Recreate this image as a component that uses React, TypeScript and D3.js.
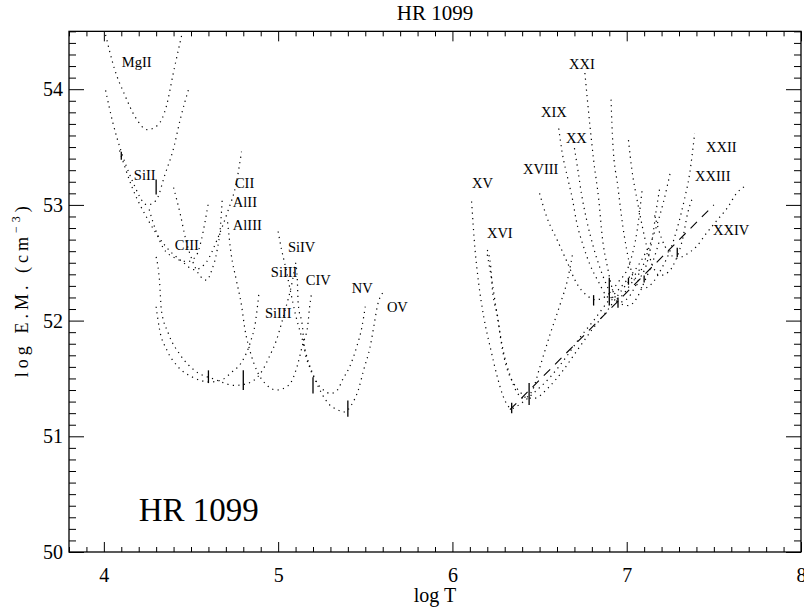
import React, { useEffect, useRef } from "react";
import * as d3 from "d3";

// ---- emission-measure loci: [log T, log EM] ----
const mgII = [[4.01, 54.47], [4.06, 54.18], [4.12, 53.95], [4.18, 53.76], [4.25, 53.65], [4.31, 53.69], [4.36, 53.86], [4.40, 54.15], [4.45, 54.49]];
const siII = [[4.01, 53.99], [4.05, 53.72], [4.10, 53.46], [4.16, 53.22], [4.25, 53.0], [4.30, 53.04], [4.35, 53.26], [4.40, 53.49], [4.44, 53.75], [4.49, 54.02]];
const cII = [[4.09, 53.47], [4.16, 53.16], [4.25, 52.88], [4.35, 52.65], [4.45, 52.51], [4.52, 52.44], [4.59, 52.51], [4.65, 52.70], [4.71, 52.94], [4.76, 53.19], [4.79, 53.46]];
const cIII = [[4.26, 52.96], [4.30, 52.77], [4.34, 52.63], [4.41, 52.54], [4.48, 52.51], [4.53, 52.56], [4.56, 52.70], [4.58, 52.85], [4.60, 53.02]];
const alII = [[4.40, 53.15], [4.44, 52.91], [4.47, 52.70], [4.51, 52.51], [4.55, 52.39], [4.59, 52.35], [4.62, 52.44], [4.65, 52.61], [4.67, 52.83], [4.68, 53.07]];
const alIII = [[4.71, 52.85], [4.73, 52.58], [4.76, 52.35], [4.79, 52.13], [4.81, 51.92], [4.84, 51.73], [4.88, 51.56], [4.93, 51.45], [4.99, 51.40], [5.06, 51.44], [5.11, 51.61], [5.14, 51.79], [5.17, 51.96], [5.18, 52.11], [5.19, 52.22]];
const siIIIa = [[4.30, 52.55], [4.32, 52.33], [4.33, 52.09], [4.37, 51.89], [4.44, 51.70], [4.52, 51.57], [4.64, 51.49], [4.75, 51.44], [4.83, 51.46], [4.88, 51.51], [4.91, 51.57], [4.95, 51.69], [4.99, 51.83], [5.02, 51.98], [5.04, 52.09], [5.06, 52.20], [5.08, 52.33], [5.10, 52.50]];
const siIIIb = [[4.30, 52.12], [4.32, 51.92], [4.36, 51.75], [4.42, 51.61], [4.51, 51.51], [4.61, 51.47], [4.68, 51.49], [4.73, 51.55], [4.79, 51.64], [4.84, 51.81], [4.87, 51.99], [4.89, 52.24]];
const nV = [[5.10, 52.50], [5.11, 52.35], [5.115, 52.15], [5.14, 51.94], [5.15, 51.77], [5.18, 51.60], [5.22, 51.47], [5.26, 51.40], [5.30, 51.37], [5.34, 51.40], [5.37, 51.49], [5.41, 51.60], [5.45, 51.77], [5.48, 51.94], [5.50, 52.12]];
const oV = [[5.0, 52.77], [5.02, 52.61], [5.04, 52.48], [5.07, 52.26], [5.10, 52.05], [5.14, 51.83], [5.17, 51.66], [5.21, 51.50], [5.25, 51.37], [5.29, 51.28], [5.34, 51.23], [5.38, 51.21], [5.42, 51.27], [5.46, 51.40], [5.49, 51.57], [5.53, 51.79], [5.55, 51.96], [5.57, 52.13], [5.60, 52.24]];

const feXV = [[6.11, 53.03], [6.13, 52.61], [6.15, 52.33], [6.18, 52.03], [6.22, 51.75], [6.26, 51.50], [6.29, 51.35], [6.34, 51.24], [6.39, 51.28], [6.47, 51.38], [6.56, 51.51], [6.65, 51.68], [6.73, 51.85], [6.82, 52.02], [6.90, 52.18], [6.99, 52.33], [7.08, 52.51], [7.13, 52.65]];
const feXVI = [[6.20, 52.61], [6.22, 52.46], [6.23, 52.26], [6.26, 52.03], [6.28, 51.81], [6.31, 51.60], [6.35, 51.46], [6.39, 51.38], [6.43, 51.33], [6.47, 51.33], [6.55, 51.42], [6.63, 51.56], [6.71, 51.73], [6.80, 51.92], [6.89, 52.09], [6.97, 52.26], [7.08, 52.45]];
const feXVII = [[6.20, 52.57], [6.23, 52.31], [6.26, 52.01], [6.29, 51.75], [6.33, 51.53], [6.37, 51.38], [6.41, 51.33], [6.46, 51.40], [6.50, 51.59], [6.56, 51.88], [6.62, 52.15], [6.66, 52.35], [6.69, 52.58]];
const feXVIII = [[6.50, 53.10], [6.54, 52.90], [6.60, 52.70], [6.66, 52.50], [6.71, 52.33], [6.77, 52.22], [6.82, 52.18], [6.88, 52.21], [6.95, 52.33], [7.02, 52.51], [7.06, 52.78], [7.09, 53.15]];
const feXIX = [[6.61, 53.66], [6.63, 53.45], [6.66, 53.24], [6.69, 53.04], [6.71, 52.87], [6.75, 52.65], [6.79, 52.48], [6.84, 52.33], [6.88, 52.22], [6.92, 52.18], [6.96, 52.20], [7.03, 52.33], [7.09, 52.46], [7.13, 52.64], [7.17, 52.81], [7.21, 53.02], [7.25, 53.28]];
const feXX = [[6.70, 53.49], [6.72, 53.30], [6.74, 53.10], [6.77, 52.87], [6.81, 52.63], [6.85, 52.44], [6.89, 52.29], [6.92, 52.20], [6.96, 52.16], [7.01, 52.20], [7.06, 52.33], [7.12, 52.52], [7.15, 52.74], [7.17, 52.96], [7.19, 53.15]];
const feXXI = [[6.76, 54.14], [6.79, 53.67], [6.81, 53.39], [6.84, 53.04], [6.86, 52.72], [6.89, 52.46], [6.92, 52.26], [6.96, 52.15], [7.01, 52.13], [7.06, 52.20], [7.10, 52.33], [7.15, 52.51], [7.19, 52.70]];
const feXXII = [[6.91, 53.91], [6.92, 53.54], [6.95, 53.15], [6.97, 52.90], [7.00, 52.61], [7.03, 52.41], [7.06, 52.31], [7.10, 52.28], [7.15, 52.33], [7.20, 52.45], [7.25, 52.61], [7.29, 52.80], [7.33, 53.04], [7.36, 53.26], [7.39, 53.62]];
const feXXIII = [[7.01, 53.56], [7.03, 53.30], [7.06, 53.04], [7.09, 52.81], [7.12, 52.61], [7.15, 52.47], [7.19, 52.39], [7.24, 52.42], [7.28, 52.52], [7.32, 52.70], [7.35, 52.93], [7.38, 53.07]];
const feXXIV = [[7.16, 52.91], [7.20, 52.71], [7.24, 52.59], [7.29, 52.54], [7.34, 52.57], [7.40, 52.64], [7.46, 52.76], [7.52, 52.87], [7.58, 52.98], [7.63, 53.10], [7.69, 53.17]];

// long-dashed line
const dashedLine = [[6.33, 51.23], [7.50, 53.0]];

// vertical bars: [log T, low, high]
const errBars = [
  [4.10, 53.39, 53.46], [4.30, 53.09, 53.22], [4.60, 51.46, 51.57], [4.80, 51.40, 51.57],
  [5.20, 51.37, 51.51], [5.40, 51.17, 51.31],
  [6.34, 51.20, 51.29], [6.44, 51.27, 51.46], [6.81, 52.13, 52.22], [6.90, 52.13, 52.37],
  [6.95, 52.11, 52.20], [7.01, 52.31, 52.37], [7.10, 52.33, 52.39], [7.29, 52.55, 52.63],
];

// ion labels: [text, log T, log EM]
const ionLabels = [
  ["MgII", 4.103, 54.19], ["SiII", 4.172, 53.215], ["CII", 4.752, 53.146], ["AlII", 4.740, 52.981],
  ["AlIII", 4.740, 52.783], ["CIII", 4.407, 52.61], ["SiIV", 5.056, 52.593], ["SiIII", 4.958, 52.377],
  ["CIV", 5.159, 52.308], ["NV", 5.423, 52.239], ["OV", 5.624, 52.074], ["SiIII", 4.924, 52.022],
  ["XV", 6.112, 53.146], ["XVI", 6.198, 52.714], ["XVIII", 6.405, 53.267], ["XIX", 6.508, 53.76],
  ["XX", 6.651, 53.535], ["XXI", 6.669, 54.175], ["XXII", 7.455, 53.457], ["XXIII", 7.392, 53.207],
  ["XXIV", 7.495, 52.74],
];

const xMajor = [4, 5, 6, 7, 8];
const yMajor = [50, 51, 52, 53, 54];

const curves = [mgII, siII, cII, cIII, alII, alIII, siIIIa, siIIIb, nV, oV,
  feXV, feXVI, feXVII, feXVIII, feXIX, feXX, feXXI, feXXII, feXXIII, feXXIV];

const FONT = "'Liberation Serif', 'Times New Roman', serif";

const EmChart = () => {
  const svgRef = useRef(null);
  const svgWidth = 804;
  const svgHeight = 607;

  useEffect(() => {
    const left = 69, right = 801, top = 31.35, bottom = 552;

    const svg = d3.select(svgRef.current).attr("width", svgWidth).attr("height", svgHeight);
    svg.selectAll("*").remove();

    const x = d3.scaleLinear().domain([3.8, 8]).range([left, right]);
    const y = d3.scaleLinear().domain([50, 54.5]).range([bottom, top]);

    svg.append("defs").append("clipPath").attr("id", "plotClip")
      .append("rect").attr("x", left).attr("y", top)
      .attr("width", right - left).attr("height", bottom - top);

    const xMinor = d3.range(38, 81).filter((d) => d % 10 !== 0).map((d) => d / 10);
    const yMinor = d3.range(500, 546).filter((d) => d % 10 !== 0).map((d) => d / 10);

    const styleAxis = (g) => {
      g.select(".domain").remove();
      g.selectAll("line").attr("stroke", "#000").attr("stroke-width", 1);
      g.selectAll("text").style("font-family", FONT).style("font-size", "20px").attr("fill", "#000");
    };

    // bottom
    svg.append("g").attr("transform", `translate(0,${bottom})`)
      .call(d3.axisBottom(x).tickValues(xMajor).tickSize(-10).tickPadding(16).tickFormat(d3.format("d")))
      .call(styleAxis);
    svg.append("g").attr("transform", `translate(0,${bottom})`)
      .call(d3.axisBottom(x).tickValues(xMinor).tickSize(-5).tickFormat(() => ""))
      .call(styleAxis);
    // top
    svg.append("g").attr("transform", `translate(0,${top})`)
      .call(d3.axisTop(x).tickValues(xMajor).tickSize(-10).tickFormat(() => ""))
      .call(styleAxis);
    svg.append("g").attr("transform", `translate(0,${top})`)
      .call(d3.axisTop(x).tickValues(xMinor).tickSize(-5).tickFormat(() => ""))
      .call(styleAxis);
    // left
    svg.append("g").attr("transform", `translate(${left},0)`)
      .call(d3.axisLeft(y).tickValues(yMajor).tickSize(-15).tickPadding(6).tickFormat(d3.format("d")))
      .call(styleAxis);
    svg.append("g").attr("transform", `translate(${left},0)`)
      .call(d3.axisLeft(y).tickValues(yMinor).tickSize(-7).tickFormat(() => ""))
      .call(styleAxis);
    // right
    svg.append("g").attr("transform", `translate(${right},0)`)
      .call(d3.axisRight(y).tickValues(yMajor).tickSize(-15).tickFormat(() => ""))
      .call(styleAxis);
    svg.append("g").attr("transform", `translate(${right},0)`)
      .call(d3.axisRight(y).tickValues(yMinor).tickSize(-7).tickFormat(() => ""))
      .call(styleAxis);

    svg.append("rect")
      .attr("x", left).attr("y", top)
      .attr("width", right - left).attr("height", bottom - top)
      .attr("fill", "none").attr("stroke", "#000").attr("stroke-width", 1.3);

    const plot = svg.append("g").attr("clip-path", "url(#plotClip)");

    const line = d3.line()
      .x((d) => x(d[0]))
      .y((d) => y(d[1]))
      .curve(d3.curveMonotoneX);

    plot.selectAll("path.locus")
      .data(curves)
      .enter()
      .append("path")
      .attr("class", "locus")
      .attr("d", line)
      .attr("fill", "none")
      .attr("stroke", "#000")
      .attr("stroke-width", 1.2)
      .attr("stroke-dasharray", "1.2 4.3");

    plot.append("path")
      .attr("d", d3.line().x((d) => x(d[0])).y((d) => y(d[1]))(dashedLine))
      .attr("fill", "none")
      .attr("stroke", "#000")
      .attr("stroke-width", 1.1)
      .attr("stroke-dasharray", "9 7");

    plot.selectAll("line.bar")
      .data(errBars)
      .enter()
      .append("line")
      .attr("class", "bar")
      .attr("x1", (d) => x(d[0])).attr("x2", (d) => x(d[0]))
      .attr("y1", (d) => y(d[1])).attr("y2", (d) => y(d[2]))
      .attr("stroke", "#000")
      .attr("stroke-width", 1.3);

    svg.selectAll("text.ion")
      .data(ionLabels)
      .enter()
      .append("text")
      .attr("class", "ion")
      .attr("x", (d) => x(d[1]))
      .attr("y", (d) => y(d[2]))
      .style("font-family", FONT)
      .style("font-size", "14.5px")
      .attr("fill", "#000")
      .text((d) => d[0]);

    // titles
    svg.append("text")
      .attr("x", (left + right) / 2).attr("y", 20)
      .attr("text-anchor", "middle")
      .style("font-family", FONT).style("font-size", "21px")
      .text("HR 1099");

    svg.append("text")
      .attr("x", (left + right) / 2).attr("y", 602)
      .attr("text-anchor", "middle")
      .style("font-family", FONT).style("font-size", "20px")
      .text("log T");

    const yl = svg.append("text")
      .attr("transform", `translate(28,${(top + bottom) / 2}) rotate(-90)`)
      .attr("text-anchor", "middle")
      .style("font-family", FONT).style("font-size", "18px")
      .attr("textLength", 171).attr("lengthAdjust", "spacing");
    yl.append("tspan").text("log E.M. (cm");
    yl.append("tspan").attr("dy", -8).style("font-size", "12px").text("−3");
    yl.append("tspan").attr("dy", 8).text(")");

    svg.append("text")
      .attr("x", x(4.2)).attr("y", y(50.27))
      .style("font-family", FONT).style("font-size", "33px")
      .text("HR 1099");
  }, []);

  return <svg ref={svgRef} style={{ position: "absolute", left: 0, top: 0, background: "#fff" }}></svg>;
};

export default function App() {
  return <EmChart />;
}
